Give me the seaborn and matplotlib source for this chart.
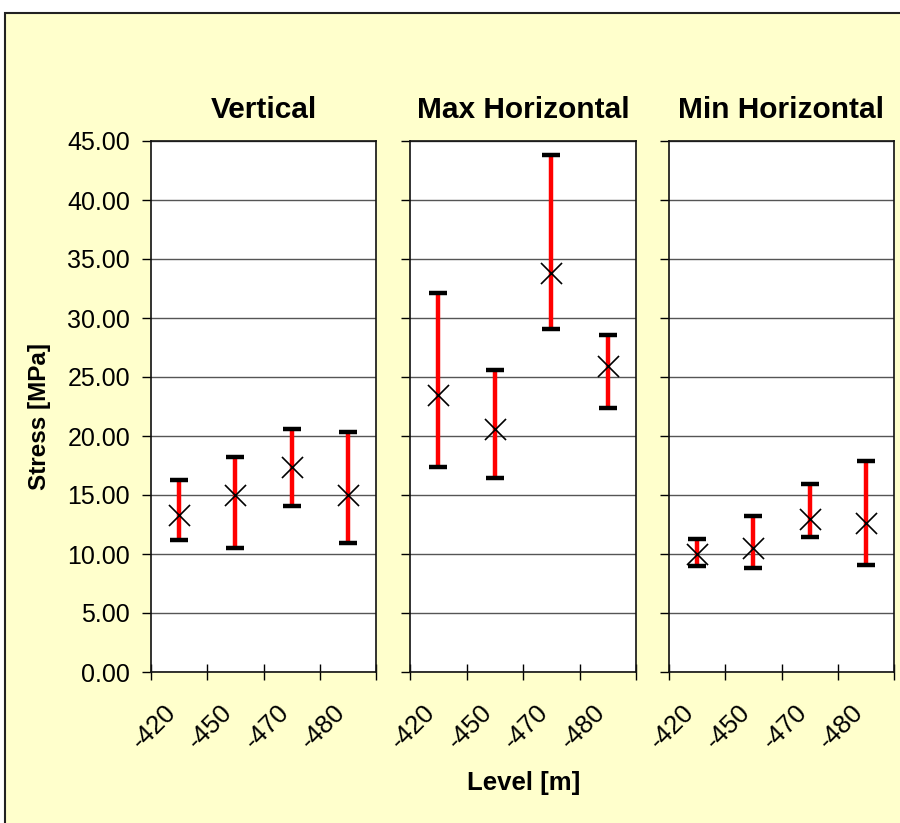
import numpy as np
import pandas as pd
import matplotlib
matplotlib.use("Agg")
import matplotlib.pyplot as plt
import matplotlib.transforms as mtransforms
from matplotlib.patches import Rectangle
import seaborn as sns

# ---- data ----
levels = ["-420", "-450", "-470", "-480"]
panel_titles = ["Vertical", "Max Horizontal", "Min Horizontal"]

vertical_mid = [13.3, 15.0, 17.4, 15.0]
vertical_low = [11.2, 10.5, 14.1, 10.9]
vertical_high = [16.3, 18.2, 20.6, 20.3]

maxh_mid = [23.5, 20.6, 33.8, 25.9]
maxh_low = [17.4, 16.4, 29.1, 22.4]
maxh_high = [32.1, 25.6, 43.8, 28.6]

minh_mid = [10.0, 10.5, 13.0, 12.6]
minh_low = [9.0, 8.8, 11.4, 9.1]
minh_high = [11.3, 13.2, 15.9, 17.9]

y_ticks = [0, 5, 10, 15, 20, 25, 30, 35, 40, 45]

series = [
    (vertical_mid, vertical_low, vertical_high),
    (maxh_mid, maxh_low, maxh_high),
    (minh_mid, minh_low, minh_high),
]

sns.set_style("white")
plt.rcParams["font.family"] = ["Liberation Sans", "DejaVu Sans"]
plt.rcParams["text.color"] = "black"
plt.rcParams["axes.labelcolor"] = "black"
plt.rcParams["xtick.color"] = "black"
plt.rcParams["ytick.color"] = "black"

W, H = 900, 823
fig = plt.figure(figsize=(W / 100, H / 100), dpi=100, facecolor="white")

# chart-area background with border (cropped at right/bottom like the reference)
bg = Rectangle((5 / W, -0.05), 1.2, 1 - 12.5 / H + 0.05, transform=fig.transFigure,
               facecolor="#FFFFCC", edgecolor="#222222", linewidth=1.5, zorder=-10)
fig.patches.append(bg)

lefts = [151, 410, 669]
widths = [225, 226, 225]
top_px, bot_px = 141, 672

for i, (mid, low, high) in enumerate(series):
    ax = fig.add_axes([lefts[i] / W, 1 - bot_px / H, widths[i] / W, (bot_px - top_px) / H])
    ax.set_facecolor("white")
    df = pd.DataFrame({"level": levels, "mid": mid, "low": low, "high": high})
    xpos = np.arange(len(levels))

    ax.vlines(xpos, df["low"], df["high"], colors="#FF0000", linewidth=3.2, zorder=3)
    ax.plot(xpos, df["low"], linestyle="none", marker="_", markersize=13.5,
            markeredgewidth=3.2, color="black", zorder=4)
    ax.plot(xpos, df["high"], linestyle="none", marker="_", markersize=13.5,
            markeredgewidth=3.2, color="black", zorder=4)
    sns.scatterplot(data=df, x=xpos, y="mid", marker="x", s=230, color="black",
                    linewidth=1.2, ax=ax, zorder=5, legend=False)

    ax.set_xlim(-0.5, len(levels) - 0.5)
    ax.set_ylim(0, 45)
    ax.set_yticks(y_ticks)
    ax.yaxis.grid(True, color="#555555", linewidth=1.0)
    ax.xaxis.grid(False)
    ax.set_axisbelow(True)
    if i == 0:
        ax.set_yticklabels([f"{v:.2f}" for v in y_ticks], fontsize=18, color="black")
    else:
        ax.set_yticklabels([])
    ax.tick_params(axis="y", which="major", direction="out", length=6.5, width=1,
                   color="black", pad=8.5, left=True)

    ax.set_xticks(xpos)
    ax.set_xticklabels(levels, fontsize=18.5, rotation=45, ha="right", va="top",
                       rotation_mode="anchor", color="black")
    ax.tick_params(axis="x", which="major", length=0, pad=20)
    ax.set_xticks(np.arange(len(levels) + 1) - 0.5, minor=True)
    ax.tick_params(axis="x", which="minor", direction="inout", length=11, width=1,
                   color="black", bottom=True)
    offset = mtransforms.ScaledTranslation(-15 / 100, 0, fig.dpi_scale_trans)
    for lab in ax.get_xticklabels():
        lab.set_transform(lab.get_transform() + offset)

    for sp in ax.spines.values():
        sp.set_visible(True)
        sp.set_color("#111111")
        sp.set_linewidth(1.2)

    ax.set_xlabel("")
    ax.set_ylabel("")
    ax.set_title(panel_titles[i], fontsize=21.5, fontweight="bold", pad=16.5,
                 color="black")

fig.text(40 / W, 1 - 416.5 / H, "Stress [MPa]", rotation=90, ha="center", va="center",
         fontsize=17.5, fontweight="bold", color="black")
fig.text(524 / W, 1 - 783 / H, "Level [m]", ha="center", va="center",
         fontsize=18.5, fontweight="bold", color="black")

fig.savefig("out.png", dpi=100, facecolor="white")
